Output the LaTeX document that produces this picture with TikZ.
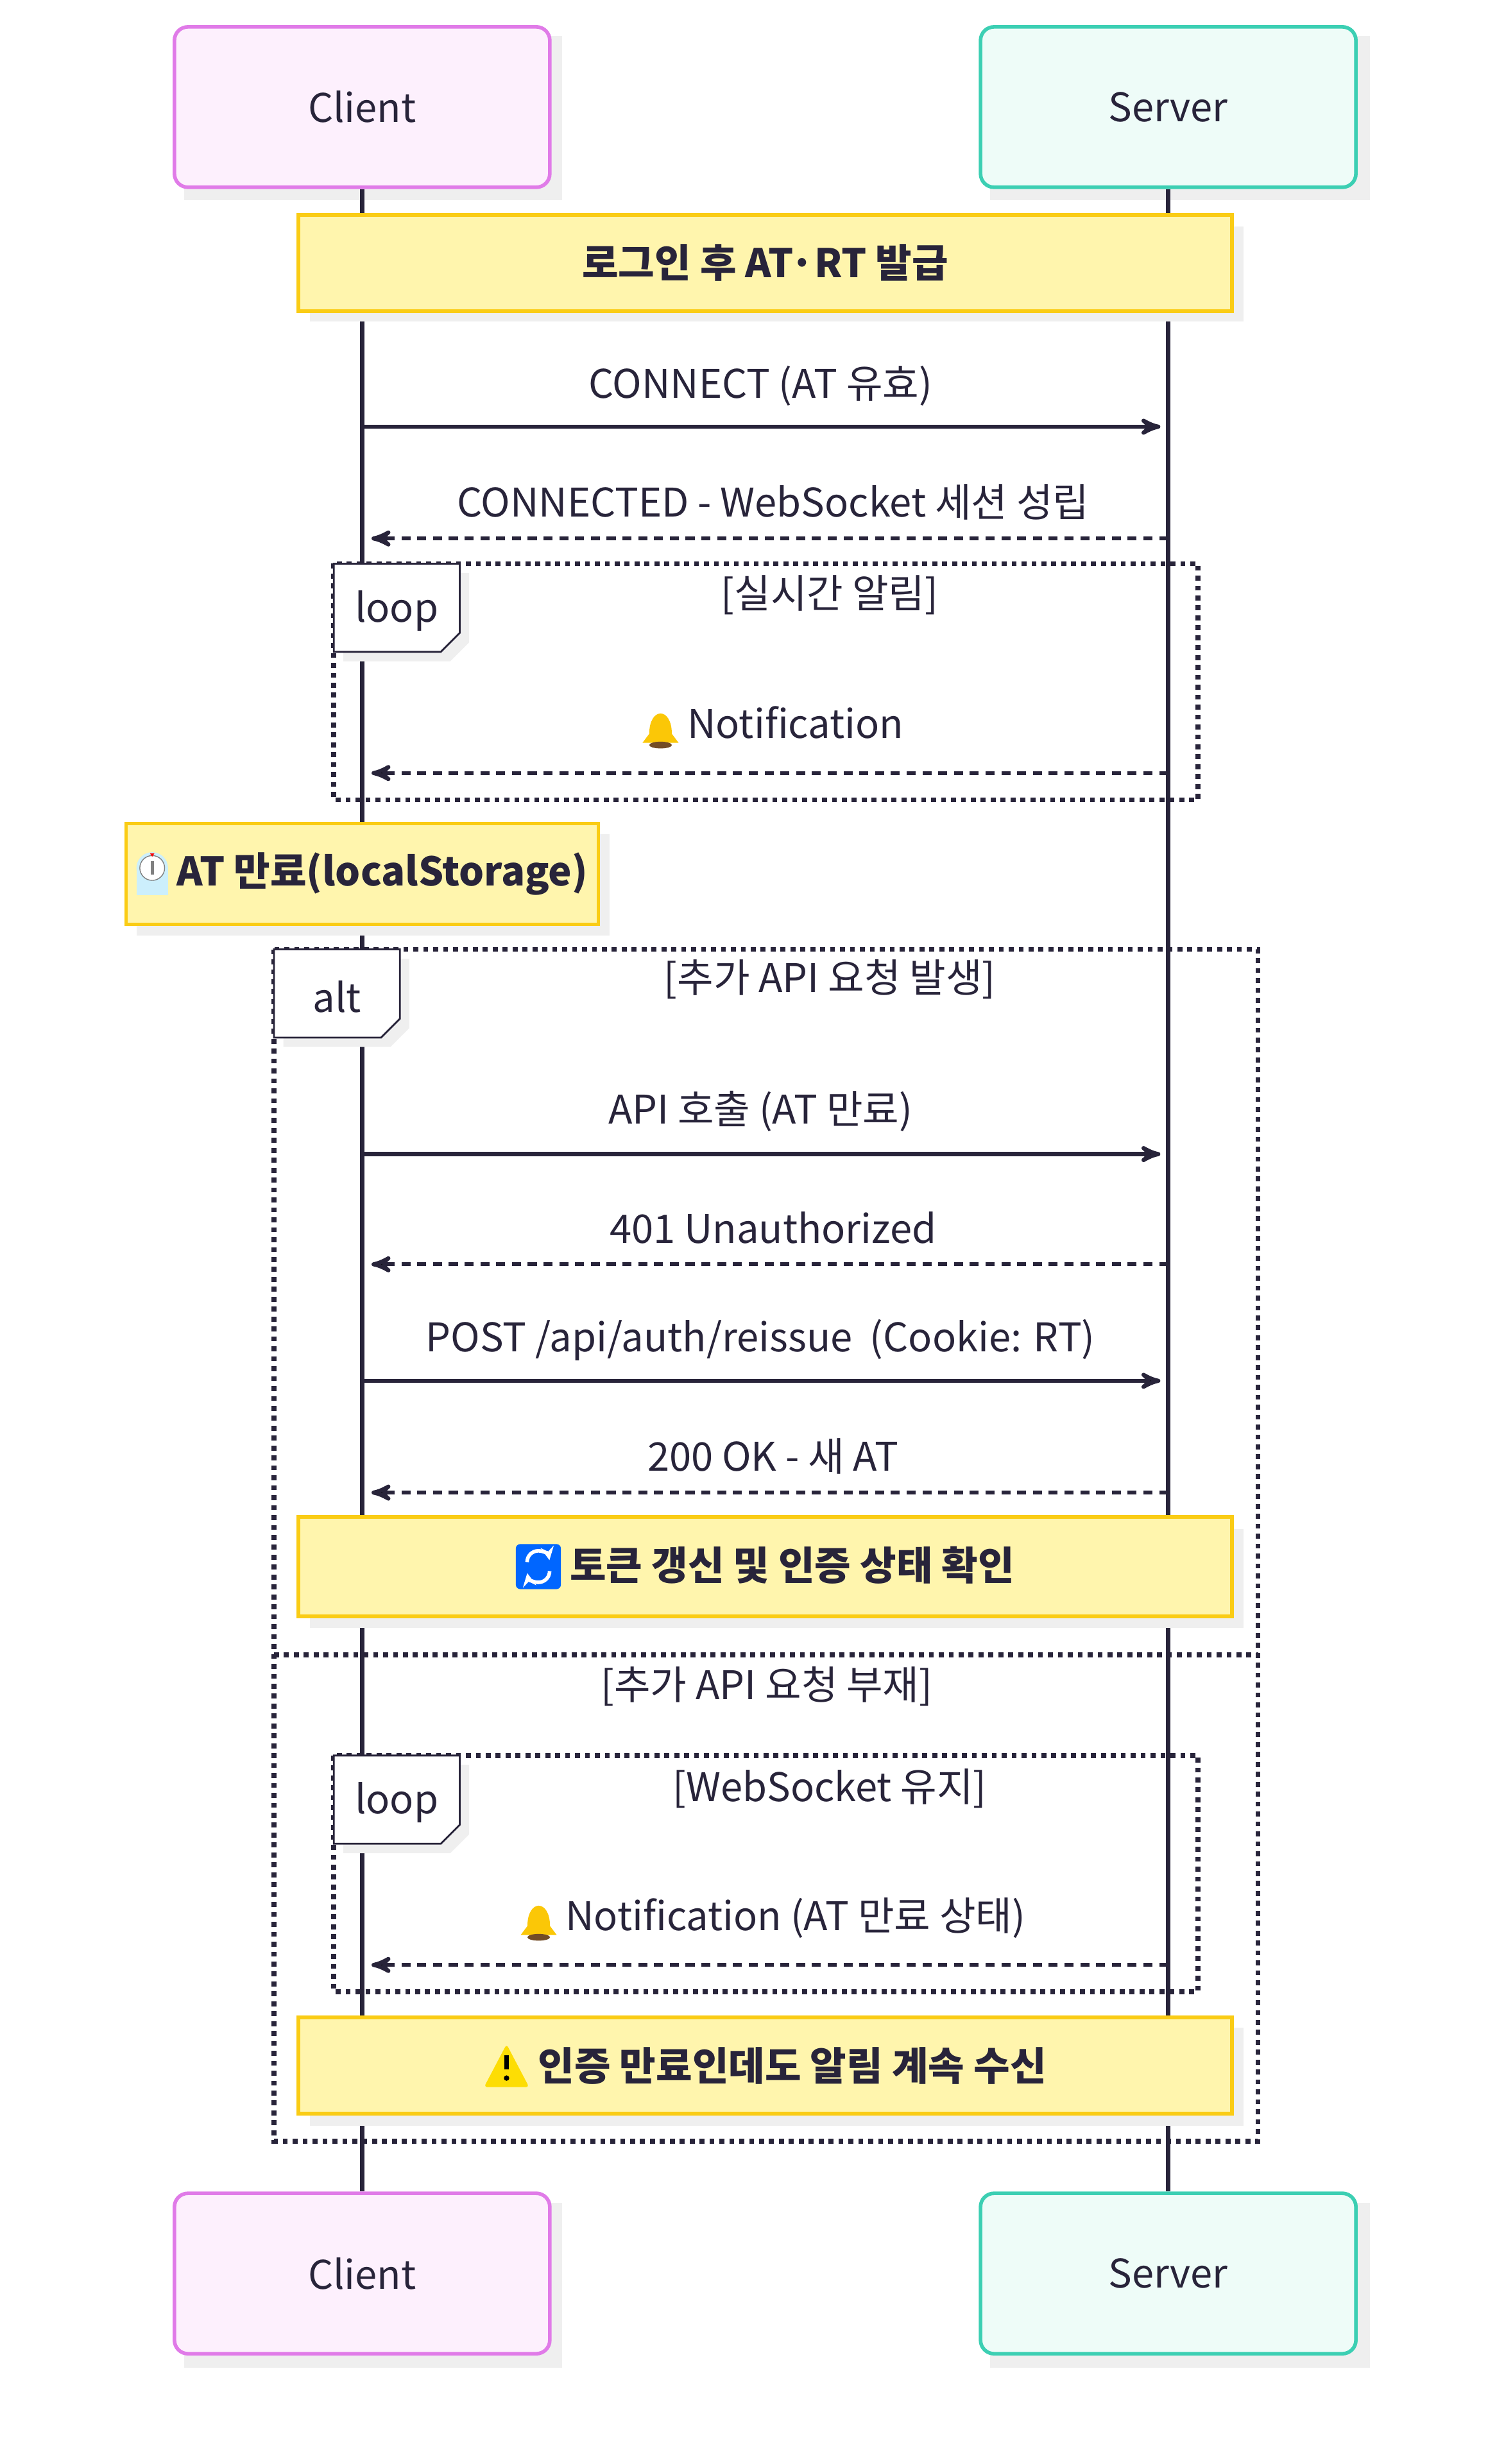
\documentclass[tikz,border=0pt]{standalone}
\usepackage{fontspec}
\setmainfont{Noto Sans CJK KR}
\usepackage{tikz}
\usetikzlibrary{arrows,shapes}
\definecolor{ink}{HTML}{28243A}
\definecolor{clientfill}{HTML}{FDF0FD}
\definecolor{clientline}{HTML}{E07BE8}
\definecolor{serverfill}{HTML}{EEFCF8}
\definecolor{serverline}{HTML}{3CCFB3}
\definecolor{notefill}{HTML}{FFF5AD}
\definecolor{noteline}{HTML}{FACC15}
\definecolor{dropgray}{HTML}{EFEFEF}
\tikzstyle{actor} = [draw, rounded corners=6pt, line width=1.6pt, minimum width=5.85cm, minimum height=2.5cm, font=\fontsize{17.5}{20}\selectfont, text=ink]
\tikzstyle{client} = [actor, draw=clientline, fill=clientfill]
\tikzstyle{server} = [actor, draw=serverline, fill=serverfill]
\tikzstyle{note} = [draw=noteline, fill=notefill, line width=1.6pt, minimum height=1.5cm, font=\fontsize{17.5}{20}\selectfont\bfseries, text=ink]
\tikzstyle{msg} = [font=\fontsize{17.5}{20}\selectfont, text=ink]
\tikzstyle{call} = [->, line width=1.8pt, draw=ink]
\tikzstyle{reply} = [call, dash pattern=on 4pt off 3pt]
\tikzstyle{frame} = [draw=ink, line width=2.2pt, dash pattern=on 2.2pt off 2.2pt]
\tikzstyle{tab} = [draw=ink, fill=white, line width=0.8pt]
\newcommand{\bellicon}{\tikz[baseline=-4pt,x=1pt,y=1pt]{\fill[yellow!60!orange] (-8,-6) -- (8,-6) -- (5,-2) .. controls (5,10) and (-5,10) .. (-5,-2) -- cycle; \fill[brown!60!black] (0,-7) ellipse (5 and 1.5);}}
\newcommand{\clockicon}{\tikz[baseline=-5pt,x=1pt,y=1pt]{\fill[cyan!20] (-7,-9) rectangle (7,3); \fill[cyan!20] (0,3) circle (7); \draw[gray, fill=white] (0,3) circle (5.5); \draw[gray, line width=1.5pt] (0,0) -- (0,6); \fill[red] (-1,9.5) -- (1,9.5) -- (0,8) -- cycle;}}
\newcommand{\cycleicon}{\tikz[baseline=-6pt,x=1pt,y=1pt]{\fill[blue!60!cyan, rounded corners=2pt] (-10,-10) rectangle (10,10); \draw[white, line width=1.6pt, ->, >=stealth] (-5,2) arc (180:10:5); \draw[white, line width=1.6pt, ->, >=stealth] (5,-2) arc (0:-170:5);}}
\newcommand{\warnicon}{\tikz[baseline=-6pt,x=1pt,y=1pt]{\fill[yellow!80!orange, rounded corners=1.5pt] (-10,-9) -- (10,-9) -- (0,10) -- cycle; \fill[black] (-1,-1) rectangle (1,5); \fill[black] (0,-5) circle (1.2);}}

\begin{document}
\begin{tikzpicture}[x=0.02454cm, y=-0.02454cm, >=stealth']

\useasboundingbox (0,0) rectangle (945,1565);

% shadows
\fill[dropgray] (117,23) rectangle (357,127);
\fill[dropgray] (629,23) rectangle (870,127);
\fill[dropgray] (117,1399) rectangle (357,1504);
\fill[dropgray] (629,1399) rectangle (870,1504);

\node[client] (ctop) at (230,68) {Client};
\node[server] (stop) at (742,68) {Server};
\node[client] (cbot) at (230,1444) {Client};
\node[server] (sbot) at (742,1444) {Server};

% lifelines
\draw[ink, line width=1.8pt] (ctop) -- (cbot);
\draw[ink, line width=1.8pt] (stop) -- (sbot);

% first note
\fill[dropgray] (197,144) rectangle (790,204);
\node[note, minimum width=14.55cm] (login) at (486,167) {로그인 후 AT·RT 발급};

\coordinate (c1) at (230,271); \coordinate (s1) at (737,271);
\node[msg] (m1) at (483,245) {CONNECT (AT 유효)};
\draw[call] (c1) -- (s1);

\coordinate (s2) at (742,342); \coordinate (c2) at (236,342);
\node[msg] (m2) at (491,319) {CONNECTED - WebSocket 세션 성립};
\draw[reply] (s2) -- (c2);

% loop 1
\draw[frame] (212,358) rectangle (761,508);
\fill[dropgray] (218,364) -- (298,364) -- (298,408) -- (286,420) -- (218,420) -- cycle;
\draw[tab] (212,358) -- (292,358) -- (292,402) -- (280,414) -- (212,414) -- cycle;
\node[msg] (l1) at (252,388) {loop};
\node[msg] (g1) at (527,378) {[실시간 알림]};
\coordinate (s3) at (742,491); \coordinate (c3) at (236,491);
\node[msg] (m3) at (491,462) {\bellicon\ Notification};
\draw[reply] (s3) -- (c3);

% AT expiry note
\fill[dropgray] (87,530) rectangle (387,594);
\node[note, minimum width=7.36cm, minimum height=1.57cm] (expire) at (230,555) {\clockicon\ AT 만료(localStorage)};

% alt
\draw[frame] (174,603) rectangle (799,1360);
\fill[dropgray] (180,609) -- (260,609) -- (260,653) -- (248,665) -- (180,665) -- cycle;
\draw[tab] (174,603) -- (254,603) -- (254,647) -- (242,659) -- (174,659) -- cycle;
\node[msg] (a1) at (214,633) {alt};
\node[msg] (g2) at (527,622) {[추가 API 요청 발생]};

\coordinate (c4) at (230,733); \coordinate (s4) at (737,733);
\node[msg] (m4) at (483,706) {API 호출 (AT 만료)};
\draw[call] (c4) -- (s4);

\coordinate (s5) at (742,803); \coordinate (c5) at (236,803);
\node[msg] (m5) at (491,780) {401 Unauthorized};
\draw[reply] (s5) -- (c5);

\coordinate (c6) at (230,877); \coordinate (s6) at (737,877);
\node[msg] (m6) at (483,851) {POST /api/auth/reissue\ \ (Cookie: RT)};
\draw[call] (c6) -- (s6);

\coordinate (s7) at (742,948); \coordinate (c7) at (236,948);
\node[msg] (m7) at (491,925) {200 OK - 새 AT};
\draw[reply] (s7) -- (c7);

\fill[dropgray] (197,971) rectangle (790,1034);
\node[note, minimum width=14.55cm, minimum height=1.55cm] (renew) at (486,995) {\cycleicon\ 토큰 갱신 및 인증 상태 확인};

\draw[frame] (174,1051) -- (799,1051);
\node[msg] (g3) at (487,1071) {[추가 API 요청 부재]};

% loop 2
\draw[frame] (212,1115) rectangle (761,1265);
\fill[dropgray] (218,1121) -- (298,1121) -- (298,1165) -- (286,1177) -- (218,1177) -- cycle;
\draw[tab] (212,1115) -- (292,1115) -- (292,1159) -- (280,1171) -- (212,1171) -- cycle;
\node[msg] (l2) at (252,1145) {loop};
\node[msg] (g4) at (527,1136) {[WebSocket 유지]};
\coordinate (s8) at (742,1248); \coordinate (c8) at (236,1248);
\node[msg] (m8) at (491,1219) {\bellicon\ Notification (AT 만료 상태)};
\draw[reply] (s8) -- (c8);

\fill[dropgray] (197,1288) rectangle (790,1350);
\node[note, minimum width=14.55cm] (warn) at (486,1312) {\warnicon\ 인증 만료인데도 알림 계속 수신};

\end{tikzpicture}
\end{document}
